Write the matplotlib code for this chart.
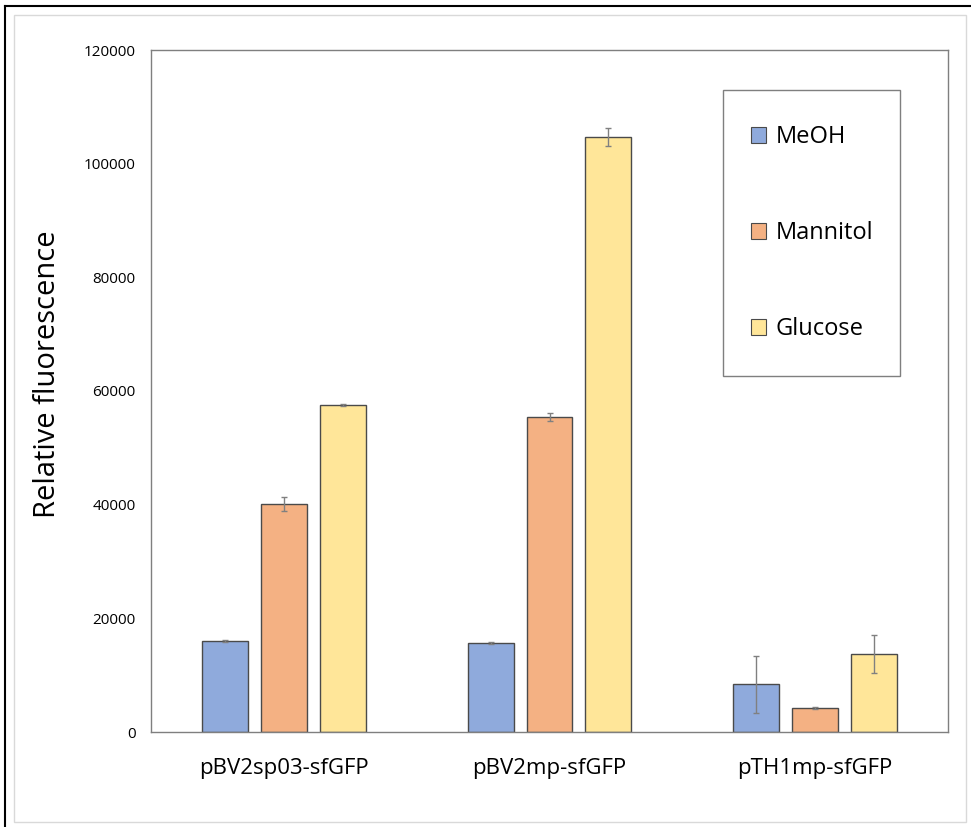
import numpy as np
import matplotlib
matplotlib.use("Agg")
import matplotlib.pyplot as plt
from matplotlib.patches import Patch, Rectangle
from matplotlib.lines import Line2D

plt.rcParams["font.family"] = ["Open Sans", "DejaVu Sans"]

# Data
constructs = ["pBV2sp03-sfGFP", "pBV2mp-sfGFP", "pTH1mp-sfGFP"]
conditions = ["MeOH", "Mannitol", "Glucose"]
meoh = [16000, 15600, 8400]
mannitol = [40100, 55400, 4200]
glucose = [57500, 104700, 13700]
meoh_err = [200, 200, 5000]
mannitol_err = [1200, 700, 200]
glucose_err = [200, 1600, 3400]
y_ticks = [0, 20000, 40000, 60000, 80000, 100000, 120000]

colors = ["#8FAADC", "#F4B183", "#FFE699"]
edge = "#4a4a4a"
frame = "#7f7f7f"

fig = plt.figure(figsize=(9.71, 8.27), dpi=100)
W, H = 971, 827
ax = fig.add_axes([151 / W, 1 - 732 / H, (948 - 151) / W, (732 - 50) / H])

x = np.arange(len(constructs))
width = 0.173
step = 0.222
series = [meoh, mannitol, glucose]
errs = [meoh_err, mannitol_err, glucose_err]
for i, (vals, err, col) in enumerate(zip(series, errs, colors)):
    ax.bar(x + (i - 1) * step, vals, width, color=col, edgecolor=edge,
           linewidth=1.0, zorder=2)
    ax.errorbar(x + (i - 1) * step, vals, yerr=err, fmt="none",
                ecolor="#808080", elinewidth=1.0, capsize=2, capthick=1.0,
                zorder=3)

ax.set_xlim(-0.5, len(constructs) - 0.5)
ax.set_ylim(0, 120000)
ax.set_yticks(y_ticks)
ax.set_yticklabels([str(v) for v in y_ticks], fontsize=11)
ax.set_xticks(x)
ax.set_xticklabels(constructs, fontsize=16)
ax.tick_params(axis="both", length=0)
ax.tick_params(axis="y", pad=11)
ax.tick_params(axis="x", pad=19)
for s in ax.spines.values():
    s.set_color(frame)
    s.set_linewidth(1.0)
ax.set_ylabel("Relative fluorescence", fontsize=21)
ax.yaxis.set_label_coords(-0.112, 0.525)

# legend box
ax.add_patch(Rectangle((0.718, 0.522), 0.222, 0.419, transform=ax.transAxes,
                       facecolor="white", edgecolor=frame, linewidth=1.0,
                       zorder=4))
handles = [Patch(facecolor=c, edgecolor=edge, linewidth=0.8) for c in colors]
leg = ax.legend(handles, conditions, loc="center", bbox_to_anchor=(0.829, 0.7315),
                frameon=False, fontsize=17, labelspacing=3.05,
                handlelength=0.65, handleheight=0.65, handletextpad=0.4)
leg.set_zorder(5)

# outer borders
fig.add_artist(Line2D([5 / W, 5 / W], [0, 1 - 6 / H], color="black", linewidth=1.5))
fig.add_artist(Line2D([5 / W, 1], [1 - 6 / H, 1 - 6 / H], color="black", linewidth=1.5))
fig.add_artist(Rectangle((14 / W, 1 - 822 / H), (966 - 14) / W, (822 - 15) / H,
                         transform=fig.transFigure, fill=False,
                         edgecolor="#d9d9d9", linewidth=1.0))

fig.savefig("out.png", dpi=100)
plt.close(fig)
